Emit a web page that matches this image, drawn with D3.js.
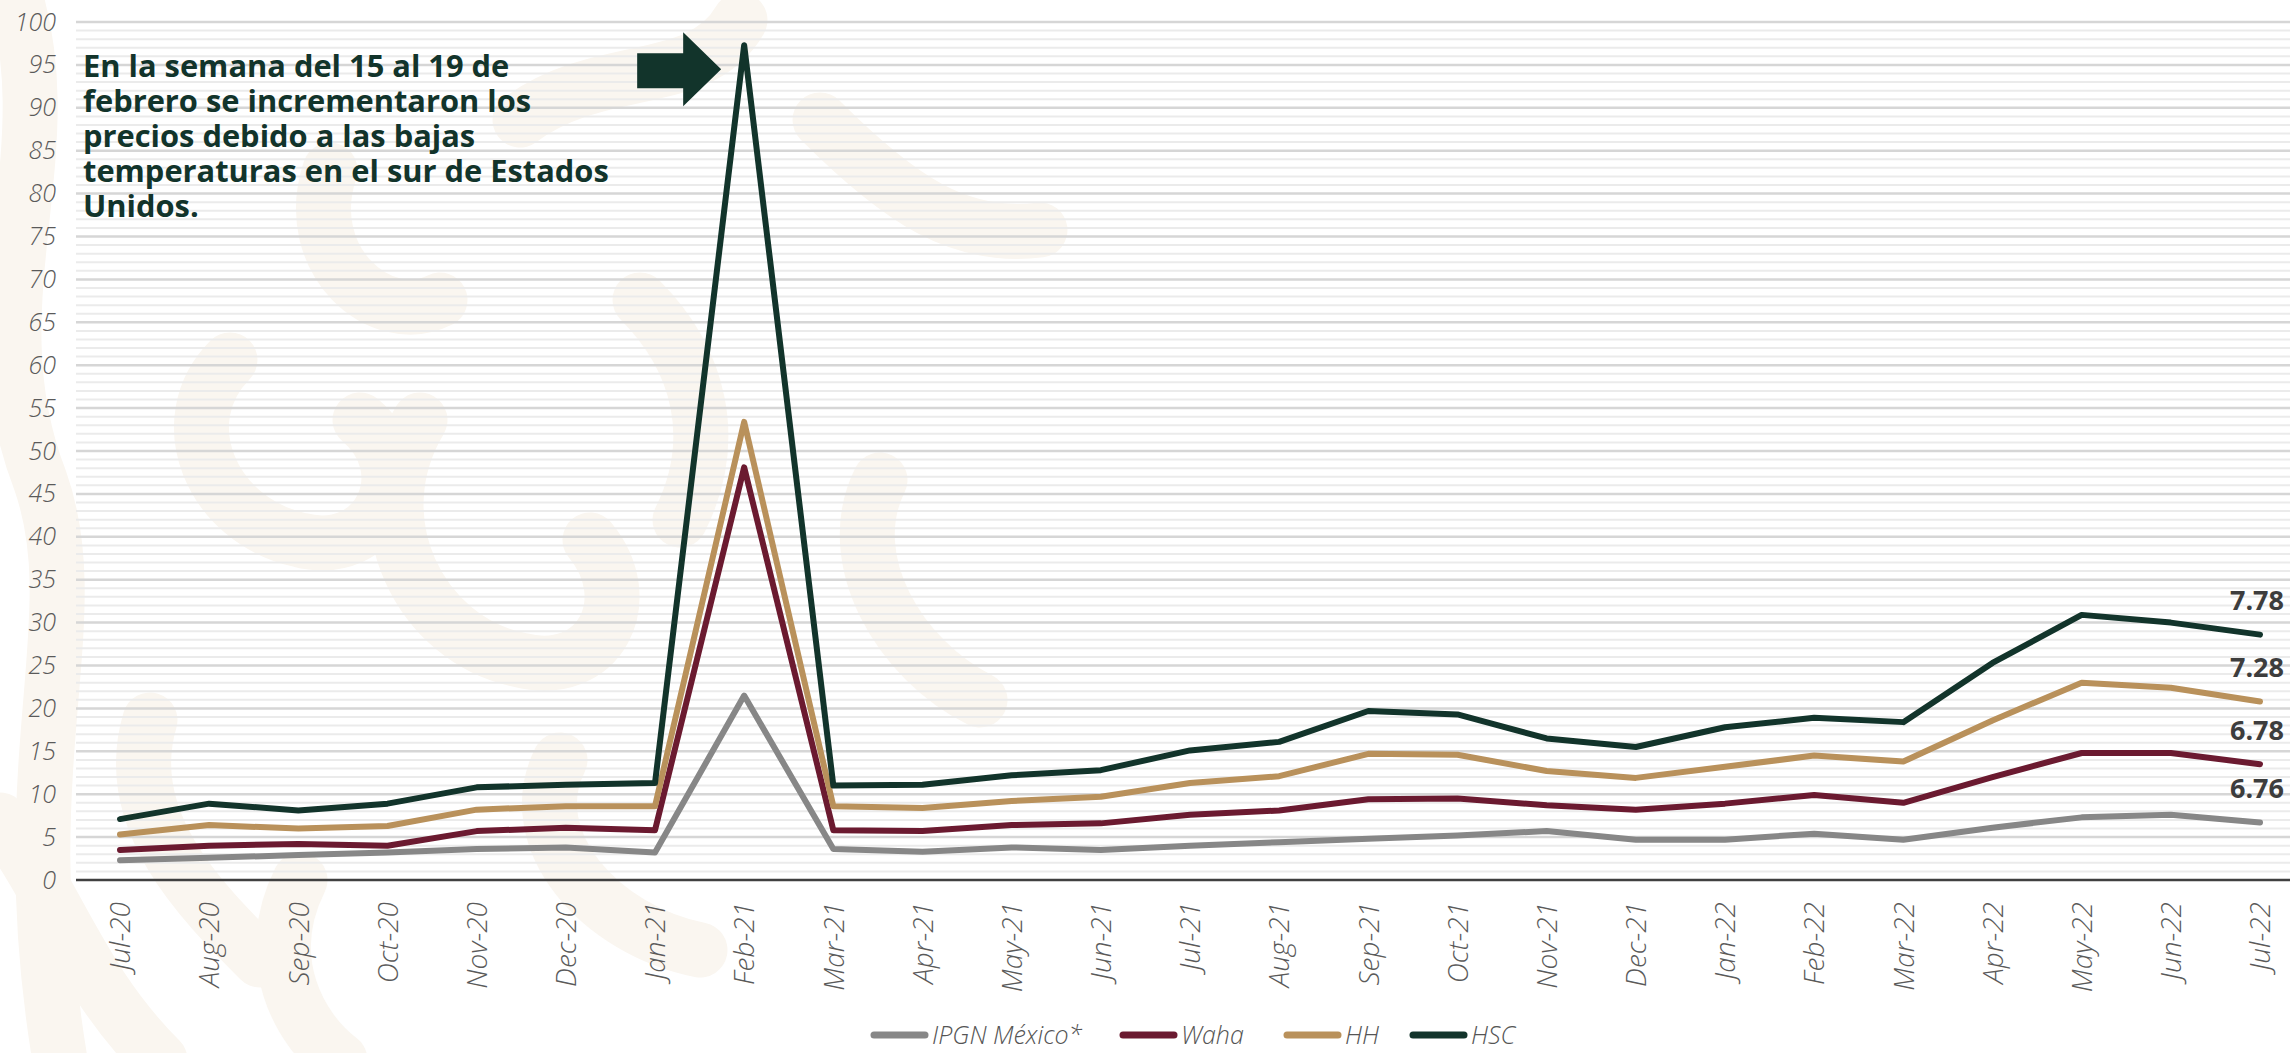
<!DOCTYPE html>
<html>
<head>
<meta charset="utf-8">
<script src="https://cdn.jsdelivr.net/npm/d3@7"></script>
<style>
  html, body { margin: 0; padding: 0; background: #ffffff; }
  svg { display: block; }
</style>
</head>
<body>
<svg id="chart" width="2290" height="1053"></svg>
<script>
// ---- data ----
const months = ["Jul-20","Aug-20","Sep-20","Oct-20","Nov-20","Dec-20","Jan-21","Feb-21","Mar-21","Apr-21","May-21","Jun-21","Jul-21","Aug-21","Sep-21","Oct-21","Nov-21","Dec-21","Jan-22","Feb-22","Mar-22","Apr-22","May-22","Jun-22","Jul-22"];
const seriesNames = ["IPGN México*", "Waha", "HH", "HSC"];
const ipgn = [2.3, 2.6, 2.9, 3.2, 3.6, 3.8, 3.2, 21.5, 3.6, 3.3, 3.8, 3.5, 4.0, 4.4, 4.8, 5.2, 5.7, 4.7, 4.7, 5.4, 4.7, 6.1, 7.3, 7.6, 6.7];
const waha = [3.5, 4.0, 4.2, 4.0, 5.7, 6.1, 5.8, 48.1, 5.8, 5.7, 6.4, 6.6, 7.6, 8.1, 9.4, 9.5, 8.7, 8.2, 8.9, 9.9, 9.0, 12.0, 14.8, 14.8, 13.5];
const hh = [5.3, 6.4, 6.0, 6.3, 8.2, 8.6, 8.6, 53.4, 8.6, 8.4, 9.2, 9.7, 11.3, 12.1, 14.7, 14.6, 12.7, 11.9, 13.2, 14.5, 13.8, 18.6, 23.0, 22.4, 20.8];
const hsc = [7.1, 8.9, 8.1, 8.9, 10.8, 11.1, 11.3, 97.3, 11.0, 11.1, 12.2, 12.8, 15.1, 16.1, 19.7, 19.3, 16.5, 15.5, 17.8, 18.9, 18.4, 25.3, 30.9, 30.0, 28.6];
const endLabels = ["6.76", "6.78", "7.28", "7.78"];
const yTicks = [0,5,10,15,20,25,30,35,40,45,50,55,60,65,70,75,80,85,90,95,100];
const annotationLines = ["En la semana del 15 al 19 de", "febrero se incrementaron los", "precios debido a las bajas", "temperaturas en el sur de Estados", "Unidos."];
const annotationMonth = "Feb-21";

// ---- styles ----
const colors = ["#878787", "#6b1a30", "#b9915b", "#12342b"];
const values = [ipgn, waha, hh, hsc];
const W = 2290, H = 1053;
const plot = { left: 76, right: 2290, top: 22, bottom: 880 };
const lightFont = "'Open Sans', 'Noto Sans', sans-serif";

const svg = d3.select("#chart");
svg.append("rect").attr("width", W).attr("height", H).attr("fill", "#ffffff");

// faint decorative watermark (background ornament)
const deco = [
  "M10,-20 C70,150 -30,300 40,480 C90,620 10,760 60,1060",
  "M230,360 C170,420 210,520 300,540 C380,560 420,470 360,420",
  "M330,170 C300,260 380,330 440,300",
  "M420,420 C360,520 420,640 520,660 C600,680 640,600 590,540",
  "M150,720 C120,820 200,900 260,960",
  "M300,880 C260,960 300,1030 340,1060",
  "M520,120 C600,60 700,90 740,20",
  "M560,760 C520,840 600,930 700,950",
  "M880,480 C840,560 900,660 980,700",
  "M0,820 C60,900 80,980 160,1060",
  "M640,300 C700,360 720,440 680,520",
  "M820,120 C900,200 960,240 1040,230"
];
svg.append("g").selectAll("path")
  .data(deco)
  .join("path")
  .attr("d", d => d)
  .attr("fill", "none")
  .attr("stroke", "#faf6f0")
  .attr("stroke-width", 55)
  .attr("stroke-linecap", "round");

const x = d3.scalePoint().domain(months).range([120, 2260]);
const y = d3.scaleLinear().domain([0, 100]).range([plot.bottom, plot.top]);

// minor grid (every unit)
svg.append("g").selectAll("line")
  .data(d3.range(1, 101).filter(v => v % 5 !== 0))
  .join("line")
  .attr("x1", plot.left).attr("x2", plot.right)
  .attr("y1", d => y(d)).attr("y2", d => y(d))
  .attr("stroke", "#ebebeb").attr("stroke-width", 2);

// major grid
svg.append("g").selectAll("line")
  .data(yTicks.filter(v => v > 0))
  .join("line")
  .attr("x1", plot.left).attr("x2", plot.right)
  .attr("y1", d => y(d)).attr("y2", d => y(d))
  .attr("stroke", "#d6d6d6").attr("stroke-width", 2.5);

// y axis labels
const yAxis = svg.append("g")
  .attr("transform", `translate(${plot.left - 20},0)`)
  .call(d3.axisLeft(y).tickValues(yTicks).tickSize(0).tickPadding(0));
yAxis.select(".domain").remove();
yAxis.selectAll("text")
  .attr("font-family", lightFont)
  .attr("font-style", "italic")
  .attr("font-weight", 300)
  .attr("font-size", 25)
  .attr("fill", "#5a5a5a");

// x axis
const xAxis = svg.append("g")
  .attr("transform", `translate(0,${plot.bottom})`)
  .call(d3.axisBottom(x).tickSize(0).tickPadding(0));
xAxis.select(".domain").remove();
xAxis.selectAll("text")
  .attr("transform", "rotate(-90)")
  .attr("x", -22).attr("y", 0).attr("dy", "0.35em")
  .attr("text-anchor", "end")
  .attr("font-family", lightFont)
  .attr("font-style", "italic")
  .attr("font-weight", 300)
  .attr("font-size", 28)
  .attr("fill", "#5a5a5a");

// zero line
svg.append("line")
  .attr("x1", plot.left).attr("x2", plot.right)
  .attr("y1", y(0)).attr("y2", y(0))
  .attr("stroke", "#404040").attr("stroke-width", 2.5);

// lines
const line = d3.line().x((d, i) => x(months[i])).y(d => y(d));
svg.append("g").selectAll("path")
  .data(values)
  .join("path")
  .attr("d", d => line(d))
  .attr("fill", "none")
  .attr("stroke", (d, i) => colors[i])
  .attr("stroke-width", 6)
  .attr("stroke-linejoin", "round")
  .attr("stroke-linecap", "round");

// end labels
svg.append("g").selectAll("text")
  .data(values)
  .join("text")
  .attr("x", 2284)
  .attr("y", d => y(d[d.length - 1]) - 34)
  .attr("dy", "0.35em")
  .attr("text-anchor", "end")
  .attr("font-family", "'Open Sans', sans-serif")
  .attr("font-weight", 700)
  .attr("font-size", 27)
  .attr("fill", "#3d3d3d")
  .text((d, i) => endLabels[i]);

// annotation text
const ann = svg.append("g");
ann.selectAll("text")
  .data(annotationLines)
  .join("text")
  .attr("x", 83)
  .attr("y", (d, i) => 66 + i * 35)
  .attr("dy", "0.35em")
  .attr("font-family", "'Open Sans', sans-serif")
  .attr("font-weight", 700)
  .attr("font-size", 27)
  .attr("fill", "#12342b")
  .text(d => d);
// fit the longest line width to the reference (~526px)
const longest = ann.selectAll("text").nodes()[3];
const w = longest.getComputedTextLength();
const fs = 27 * 526 / w;
ann.selectAll("text").attr("font-size", fs);

// arrow pointing at the peak
const px = x(annotationMonth), py = y(hsc[months.indexOf(annotationMonth)]);
const tipX = px - 23, tipY = py + 24;
const arrow = [
  [tipX - 84, tipY - 16], [tipX - 38, tipY - 16], [tipX - 38, tipY - 37],
  [tipX, tipY], [tipX - 38, tipY + 37], [tipX - 38, tipY + 19], [tipX - 84, tipY + 19]
];
svg.append("path")
  .attr("d", "M" + arrow.map(p => p.join(",")).join("L") + "Z")
  .attr("fill", "#12342b");

// legend
const legendX = [871, 1120, 1284, 1410];
const lg = svg.append("g").selectAll("g")
  .data(seriesNames)
  .join("g")
  .attr("transform", (d, i) => `translate(${legendX[i]},1035)`);
lg.append("line")
  .attr("x1", 3).attr("x2", 54).attr("y1", 0).attr("y2", 0)
  .attr("stroke", (d, i) => colors[i])
  .attr("stroke-width", 7)
  .attr("stroke-linecap", "round");
lg.append("text")
  .attr("x", 61).attr("y", 0).attr("dy", "0.35em")
  .attr("font-family", lightFont)
  .attr("font-style", "italic")
  .attr("font-weight", 300)
  .attr("font-size", 25)
  .attr("fill", "#555555")
  .text(d => d);
</script>
</body>
</html>
